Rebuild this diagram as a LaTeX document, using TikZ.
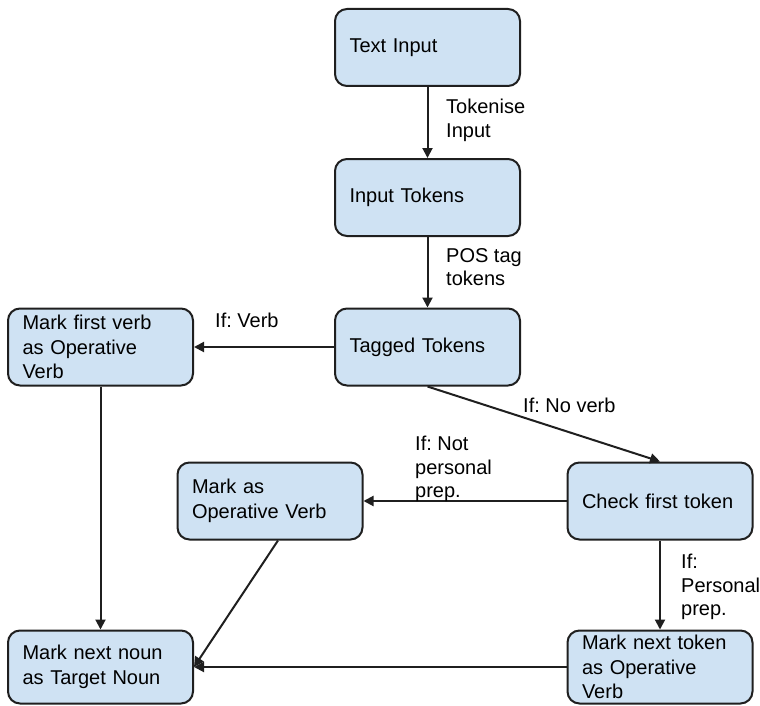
\documentclass[tikz,border=0pt]{standalone}
\usepackage{fontspec}
\setmainfont{Liberation Sans}
\usetikzlibrary{arrows.meta}
\frenchspacing
\definecolor{boxfill}{HTML}{CFE2F3}
\definecolor{boxline}{HTML}{1F1F1F}
\tikzset{
  box/.style={draw=boxline, fill=boxfill, line width=2pt, rounded corners=12pt,
    minimum width=185pt, minimum height=77pt, text width=156pt, inner xsep=14.5pt,
    align=left, font=\fontsize{20}{24.5}\selectfont},
  lowbox/.style={box, minimum height=73pt},
  lbl/.style={anchor=north west, align=left, inner sep=0pt, font=\fontsize{20}{23.5}\selectfont},
  conn/.style={line width=2pt, draw=boxline, -{Triangle[length=10pt,width=10pt]}}
}
\begin{document}
\begin{tikzpicture}[x=1pt,y=-1pt]
\useasboundingbox (0,0) rectangle (760,706);
\node[box] (ti) at (427.5,47.5) {Text Input};
\node[box] (it) at (427.5,197.5) {Input Tokens};
\node[box] (tt) at (427.5,347) {Tagged Tokens};
\node[box] (mf) at (100.5,347) {Mark first verb\\as Operative\\Verb};
\node[box] (cf) at (660,501) {Check first token};
\node[box] (mo) at (270,501) {Mark as\\Operative Verb};
\node[lowbox] (mn) at (100.5,667) {Mark next noun\\as Target Noun};
\node[lowbox] (mt) at (660,667) {Mark next token\\as Operative\\Verb};

\draw[conn] (ti) -- (it);
\draw[conn] (it) -- (tt);
\draw[conn] (tt) -- (mf);
\draw[conn] (tt.south) -- (cf.north);
\draw[conn] (cf) -- (mo);
\draw[conn] (cf) -- (mt);
\draw[conn] (mf) -- (mn);
\draw[conn] ([xshift=8pt]mo.south) -- (mn.east);
\draw[conn] (mt) -- (mn);

\node[lbl] (l1) at (446,99) {Tokenise\\Input};
\node[lbl] (l2) at (446,248) {POS tag\\tokens};
\node[lbl] (l3) at (215,313) {If: Verb};
\node[lbl] (l4) at (523,398) {If: No verb};
\node[lbl] (l5) at (415,436) {If: Not\\personal\\prep.};
\node[lbl] (l6) at (681,554) {If:\\Personal\\prep.};
\end{tikzpicture}
\end{document}
